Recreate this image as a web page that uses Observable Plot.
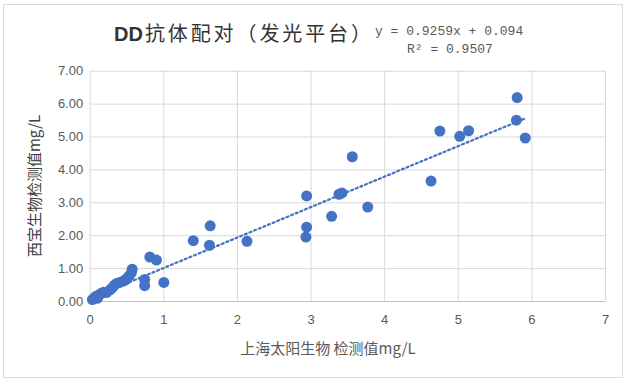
<!DOCTYPE html>
<html>
<head>
<meta charset="utf-8">
<script src="https://cdn.jsdelivr.net/npm/d3@7"></script>
<script src="https://cdn.jsdelivr.net/npm/@observablehq/plot@0.6"></script>
<style>
  html, body { margin: 0; padding: 0; background: #fff; }
  #wrap { position: relative; width: 628px; height: 385px; overflow: hidden; font-family: "Noto Sans CJK SC", "Liberation Sans", sans-serif; }
  #frame { position: absolute; left: 3px; top: 4px; width: 620px; height: 374px; border: 1px solid #d9d9d9; box-sizing: border-box; }
  #chart { position: absolute; left: 0; top: 0; }
  .t { position: absolute; white-space: nowrap; }
  #title { left: 114px; top: 21px; font-size: 20px; letter-spacing: 2.9px; color: #333333; line-height: 24px; }
  #title .dd { letter-spacing: 0; font-family: "Liberation Sans", sans-serif; font-weight: 700; margin-right: 2px; }
  #eq1 { left: 375px; top: 24px; font-family: "Liberation Mono", "DejaVu Sans Mono", monospace; font-size: 13px; color: #595959; line-height: 16px; }
  #eq2 { left: 407px; top: 42px; font-family: "Liberation Mono", "DejaVu Sans Mono", monospace; font-size: 13px; color: #595959; line-height: 16px; }
  #xlab { left: 328px; top: 338px; transform: translateX(-50%); font-size: 15px; color: #595959; line-height: 20px; }
  #ylab { left: 34px; top: 186px; transform: translate(-50%, -50%) rotate(-90deg); font-size: 15px; color: #404040; line-height: 20px; }
</style>
</head>
<body>
<div id="wrap">
  <div id="frame"></div>
  <div id="chart"></div>
  <div class="t" id="title"><span class="dd">DD</span>抗体配对（发光平台）</div>
  <div class="t" id="eq1">y = 0.9259x + 0.094</div>
  <div class="t" id="eq2">R² = 0.9507</div>
  <div class="t" id="xlab">上海太阳生物 检测值mg/L</div>
  <div class="t" id="ylab">西宝生物检测值mg/L</div>
</div>
<script>
// 上海太阳生物 检测值 (x) and 西宝生物检测值 (y), mg/L
const xValues = [0.03, 0.06, 0.08, 0.10, 0.12, 0.15, 0.18, 0.22, 0.27, 0.30, 0.33, 0.36, 0.40, 0.45, 0.48, 0.50, 0.53, 0.56, 0.57,
  0.74, 0.74, 0.81, 0.90, 1.00, 1.40, 1.62, 1.63, 2.13,
  2.93, 2.94, 2.94, 3.28, 3.38, 3.42, 3.56, 3.77,
  4.63, 4.75, 5.02, 5.14, 5.79, 5.80, 5.91];
const yValues = [0.06, 0.12, 0.16, 0.10, 0.20, 0.25, 0.28, 0.27, 0.35, 0.42, 0.50, 0.55, 0.58, 0.62, 0.66, 0.70, 0.78, 0.88, 0.98,
  0.67, 0.48, 1.35, 1.26, 0.58, 1.85, 1.71, 2.30, 1.83,
  1.96, 2.26, 3.21, 2.59, 3.26, 3.30, 4.40, 2.87,
  3.66, 5.18, 5.02, 5.19, 5.51, 6.20, 4.97];
const trendSlope = 0.9259;
const trendIntercept = 0.094;
const xTicks = [0, 1, 2, 3, 4, 5, 6, 7];
const yTicks = [0, 1, 2, 3, 4, 5, 6, 7];

const points = xValues.map((x, i) => ({x, y: yValues[i]}));
const xMin = d3.min(xValues), xMax = d3.max(xValues);
const trend = [xMin, xMax].map(x => ({x, y: trendSlope * x + trendIntercept}));

const plot = Plot.plot({
  width: 628,
  height: 385,
  marginLeft: 89.7,
  marginRight: 23,
  marginTop: 70.7,
  marginBottom: 84,
  style: {fontFamily: "'Liberation Sans', 'Open Sans', sans-serif", fontSize: "13px", color: "#595959", background: "transparent"},
  x: {domain: [0, 7], ticks: xTicks, tickFormat: d3.format("d"), label: null},
  y: {domain: [0, 7], ticks: yTicks, tickFormat: d3.format(".2f"), label: null},
  marks: [
    Plot.gridX(xTicks, {stroke: "#d9d9d9", strokeOpacity: 1, strokeWidth: 1}),
    Plot.gridY(yTicks, {stroke: "#d9d9d9", strokeOpacity: 1, strokeWidth: 1}),
    Plot.ruleY([0], {stroke: "#bfbfbf", strokeWidth: 1}),
    Plot.axisX({ticks: xTicks, tickSize: 0, tickPadding: 13, tickFormat: d3.format("d"), fill: "#595959", fontSize: 13}),
    Plot.axisY({ticks: yTicks, tickSize: 0, tickPadding: 7, tickFormat: d3.format(".2f"), fill: "#595959", fontSize: 13}),
    Plot.dot(points, {x: "x", y: "y", r: 5.5, fill: "#4472c4", stroke: "none"}),
    Plot.line(trend, {x: "x", y: "y", stroke: "#4472c4", strokeWidth: 2.25, strokeDasharray: "2 3"})
  ]
});
document.getElementById("chart").appendChild(plot);
</script>
</body>
</html>
